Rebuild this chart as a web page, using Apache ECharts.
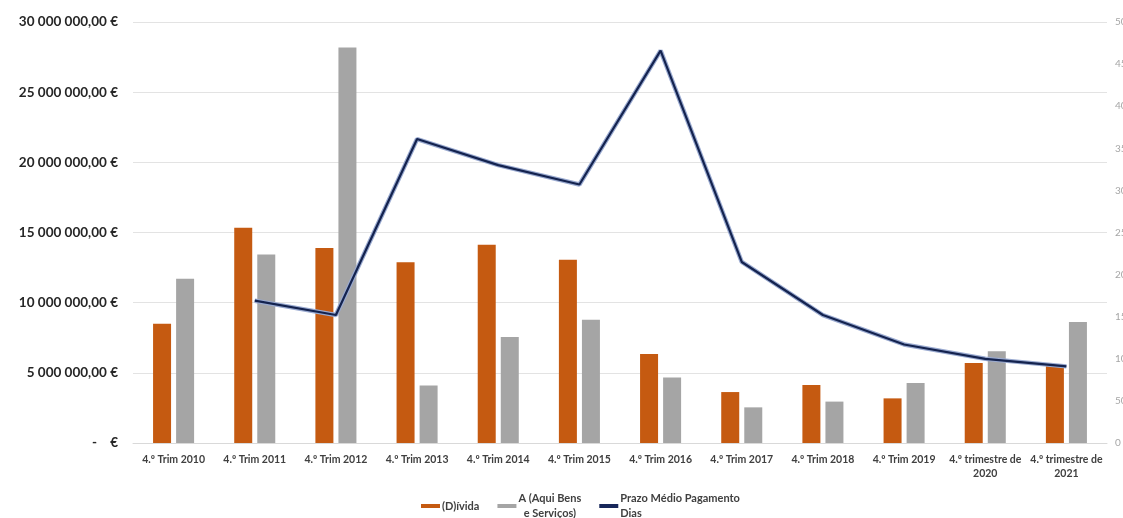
<!DOCTYPE html>
<html>
<head>
<meta charset="utf-8">
<script src="https://cdn.jsdelivr.net/npm/echarts@6/dist/echarts.min.js"></script>
<style>
  html, body { margin: 0; padding: 0; background: #fff; }
  #main { width: 1123px; height: 518px; }
</style>
</head>
<body>
<div id="main"></div>
<script>
var categorias = ['4.º Trim 2010', '4.º Trim 2011', '4.º Trim 2012', '4.º Trim 2013', '4.º Trim 2014', '4.º Trim 2015',
  '4.º Trim 2016', '4.º Trim 2017', '4.º Trim 2018', '4.º Trim 2019', '4.º trimestre de\n2020', '4.º trimestre de\n2021'];
var divida = [8500000, 15340000, 13900000, 12880000, 14120000, 13060000, 6340000, 3630000, 4130000, 3180000, 5700000, 5530000];
var aquisicoes = [11710000, 13430000, 28190000, 4100000, 7550000, 8790000, 4660000, 2540000, 2950000, 4270000, 6530000, 8620000];
var prazoDias = [null, 169, 152, 361, 330, 307, 466, 215, 152, 117, 100, 91];

var nomeDivida = '(D)ívida';
var nomeAquis = 'A (Aqui Bens e Serviços)';
var nomePrazo = 'Prazo Médio Pagamento Dias';

var chart = echarts.init(document.getElementById('main'));

function euro(v) {
  if (v === 0) return '-    €';
  var s = String(Math.round(v)).replace(/\B(?=(\d{3})+(?!\d))/g, ' ');
  return s + ',00 €';
}

var option = {
  backgroundColor: '#fff',
  animation: false,
  textStyle: { fontFamily: 'Lato' },
  grid: { left: 133, right: 16, top: 22, bottom: 75, outerBoundsMode: 'none', containLabel: false },
  legend: {
    data: [
      { name: nomeDivida, icon: 'rect' },
      { name: nomeAquis, icon: 'rect' },
      { name: nomePrazo, icon: 'rect', itemStyle: { color: '#17275a' } }
    ],
    left: 416,
    top: 486,
    itemWidth: 19,
    itemHeight: 4,
    itemGap: 18,
    textStyle: { fontSize: 11, fontWeight: 'bold', color: '#404040', padding: [0, 0, 0, -3], lineHeight: 15 },
    formatter: function (name) {
      if (name === nomeAquis) return 'A (Aqui Bens\n  e Serviços)';
      if (name === nomePrazo) return 'Prazo Médio Pagamento\nDias';
      return name;
    }
  },
  xAxis: {
    type: 'category',
    data: categorias,
    axisLine: { lineStyle: { color: '#d9d9d9' } },
    axisTick: { show: false },
    axisLabel: { interval: 0, fontSize: 10.5, fontWeight: 'bold', color: '#404040', margin: 10, lineHeight: 14 }
  },
  yAxis: [
    {
      type: 'value',
      min: 0, max: 30000000, interval: 5000000,
      axisLine: { show: false },
      axisTick: { show: false },
      splitLine: { lineStyle: { color: '#e3e3e3' } },
      axisLabel: { formatter: euro, fontSize: 13.5, fontWeight: 'bold', color: '#262626', margin: 15 }
    },
    {
      type: 'value',
      min: 0, max: 500, interval: 50,
      axisLine: { show: false },
      axisTick: { show: false },
      splitLine: { show: false },
      axisLabel: { fontSize: 10, color: '#a6a6a6', margin: 8 }
    }
  ],
  series: [
    {
      name: nomeDivida,
      type: 'bar',
      data: divida,
      barWidth: 18,
      barGap: '28%',
      itemStyle: { color: '#c55a11' }
    },
    {
      name: nomeAquis,
      type: 'bar',
      data: aquisicoes,
      barWidth: 18,
      itemStyle: { color: '#a5a5a5' }
    },
    {
      name: 'contorno',
      type: 'line',
      yAxisIndex: 1,
      data: prazoDias,
      symbol: 'none',
      lineStyle: { color: '#9aaad0', width: 4.5 },
      z: 3
    },
    {
      name: nomePrazo,
      type: 'line',
      yAxisIndex: 1,
      data: prazoDias,
      symbol: 'none',
      lineStyle: { color: '#14234f', width: 2.2 },
      itemStyle: { color: '#14234f' },
      z: 4
    }
  ]
};

chart.setOption(option);
</script>
</body>
</html>
